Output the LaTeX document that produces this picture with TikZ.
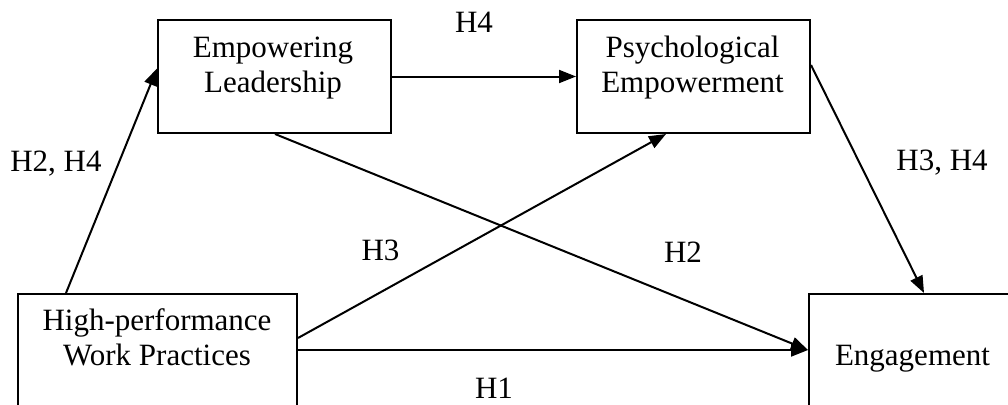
\documentclass[tikz,border=0pt]{standalone}
\usepackage{fontspec}
\setmainfont{Liberation Serif}
\usetikzlibrary{arrows.meta}
\begin{document}
\begin{tikzpicture}[x=1pt,y=-1pt,
  box/.style={draw, line width=2pt, inner sep=0pt, anchor=north west},
  txt/.style={anchor=base, inner sep=0pt, font=\fontsize{31}{35}\selectfont},
  link/.style={line width=2pt, -{Triangle[length=17pt,width=13pt]}}]
\useasboundingbox (0,0) rectangle (1008,404);
\begin{scope}
\clip (0,0) rectangle (1008,404);
% boxes
\node[box, minimum width=233pt, minimum height=113pt] (el) at (157,19) {};
\node[box, minimum width=233pt, minimum height=113pt] (pe) at (576,19) {};
\node[box, minimum width=279pt, minimum height=140pt] (hp) at (17,293) {};
\node[box, minimum width=209pt, minimum height=140pt] (eng) at (808,293) {};
\end{scope}
% box texts
\node[txt] (el1) at (273,57) {Empowering};
\node[txt] (el2) at (273,92) {Leadership};
\node[txt] (pe1) at (692.5,57) {Psychological};
\node[txt] (pe2) at (692.5,92) {Empowerment};
\node[txt] (hp1) at (157,330) {High-performance};
\node[txt] (hp2) at (157,365) {Work Practices};
\node[txt] (eng1) at (912.5,365) {Engagement};
% paths
\draw[link] ([xshift=49pt]hp.north west) -- ([yshift=8pt]el.west);
\draw[link] (el.east) -- (pe.west);
\draw[link] ([xshift=118pt]el.south west) -- ([yshift=-57pt]eng.north west);
\draw[link] ([yshift=-45pt]hp.north east) -- ([xshift=90pt]pe.south west);
\draw[link] ([yshift=-57pt]hp.north east) -- ([yshift=-57pt]eng.north west);
\draw[link] ([yshift=-46pt]pe.north east) -- ([xshift=116pt]eng.north west);
% hypothesis labels
\node[txt] (h4) at (474,33) {H4};
\node[txt] (h24) at (56,171) {H2, H4};
\node[txt] (h34) at (942,170) {H3, H4};
\node[txt] (h3) at (380.5,260) {H3};
\node[txt] (h2) at (683,262) {H2};
\node[txt] (h1) at (494,398) {H1};
\end{tikzpicture}
\end{document}
